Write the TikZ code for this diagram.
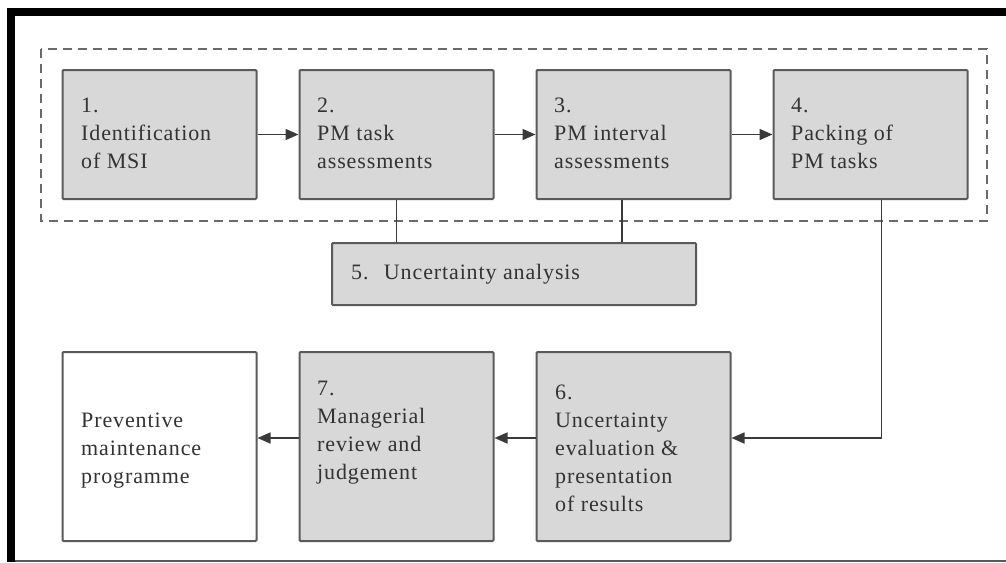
\documentclass[tikz,border=0pt]{standalone}
\usepackage{fontspec}
\setmainfont{Liberation Serif}[LetterSpace=4]
\usetikzlibrary{arrows.meta}
\definecolor{boxfill}{HTML}{D8D8D8}
\definecolor{boxline}{HTML}{5A5A5A}
\definecolor{arrline}{HTML}{3A3A3A}
\definecolor{txt}{HTML}{333333}
\definecolor{dashline}{HTML}{6A6A6A}
\tikzset{
  box/.style={draw=boxline, line width=2pt, fill=boxfill, rounded corners=1pt,
    inner sep=0pt},
  whitebox/.style={box, fill=white},
  topbox/.style={box, minimum width=194pt, minimum height=129pt},
  lowbox/.style={box, minimum width=194pt, minimum height=189pt},
  label text/.style={anchor=base west, inner sep=0pt, text=txt,
    font=\fontsize{22}{28}\selectfont},
  arr/.style={draw=arrline, line width=1.6pt,
    -{Triangle[length=13pt,width=11pt]}},
  link/.style={draw=arrline, line width=1.6pt},
  group/.style={draw=dashline, line width=2pt, dash pattern=on 9pt off 6pt}
}
\newcommand{\lines}[1]{\begin{tabular}[t]{@{}l@{}}#1\end{tabular}}
\begin{document}
\begin{tikzpicture}[x=1pt,y=-1pt]
\useasboundingbox (0,0) rectangle (1006,562);
% frame
\fill[black] (7,8) rectangle (1006,16);
\fill[black] (7,8) rectangle (15,562);
\fill[boxline] (15,560) rectangle (1006,562);

% dashed group around steps 1--4
\draw[group] (41,49) rectangle (987,221);

% step boxes
\node[topbox] (b1) at (159.5,134.5) {};
\node[topbox] (b2) at (396.5,134.5) {};
\node[topbox] (b3) at (633.5,134.5) {};
\node[topbox] (b4) at (870.5,134.5) {};
\node[box, minimum width=364pt, minimum height=62pt] (b5) at (514,274) {};
\node[lowbox, fill=white] (pm) at (159.5,446.5) {};
\node[lowbox] (b7) at (396.5,446.5) {};
\node[lowbox] (b6) at (633.5,446.5) {};

% texts
\node[label text] (t1) at (81,112) {\lines{1.\\Identification\\of MSI}};
\node[label text] (t2) at (317,112) {\lines{2.\\PM task\\assessments}};
\node[label text] (t3) at (554,112) {\lines{3.\\PM interval\\assessments}};
\node[label text] (t4) at (791,112) {\lines{4.\\Packing of\\PM tasks}};
\node[label text] (t5) at (351,279) {5.\hspace{0.7em}Uncertainty analysis};
\node[label text] (tpm) at (81,427) {\lines{Preventive\\maintenance\\programme}};
\node[label text] (t7) at (317,395) {\lines{7.\\Managerial\\review and\\judgement}};
\node[label text] (t6) at (555,399) {\lines{6.\\Uncertainty\\evaluation \&\\presentation\\of results}};

% connectors
\coordinate (row) at (0,438);
\draw[arr] (b1.east) -- (b2.west);
\draw[arr] (b2.east) -- (b3.west);
\draw[arr] (b3.east) -- (b4.west);
\draw[link] (b2.south) -- (b2.south |- b5.north);
\coordinate (c3) at ([xshift=-11.5pt]b3.south);
\draw[link] (c3) -- (c3 |- b5.north);
\coordinate (c4) at ([xshift=11pt]b4.south);
\draw[arr] (c4) |- (b6.east |- row);
\draw[arr] (b6.west |- row) -- (b7.east |- row);
\draw[arr] (b7.west |- row) -- (pm.east |- row);
\end{tikzpicture}
\end{document}
